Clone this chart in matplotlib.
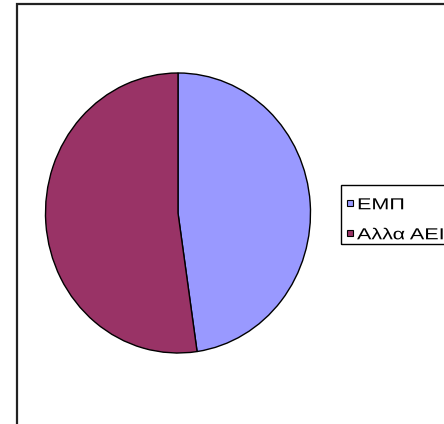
import matplotlib
matplotlib.use("Agg")
import matplotlib.pyplot as plt
from matplotlib.patches import Rectangle
from matplotlib.patheffects import AbstractPathEffect
from matplotlib.transforms import Affine2D

labels = ["ΕΜΠ", "Αλλα ΑΕΙ"]
values = [47.7, 52.3]
colors = ["#9999FF", "#993366"]

W, H = 444, 424
plt.rcParams['font.family'] = ['Liberation Sans', 'DejaVu Sans']
fig = plt.figure(figsize=(W / 100, H / 100), dpi=100)


class StretchX(AbstractPathEffect):
    """Stretch text glyphs horizontally (the reference text is widened)."""
    def __init__(self, sx):
        super().__init__()
        self.sx = sx

    def draw_path(self, renderer, gc, tpath, affine, rgbFace=None):
        renderer.draw_path(gc, tpath, Affine2D().scale(self.sx, 1) + affine, rgbFace)


def px(x, y):
    return x / W, 1 - y / H


# outer chart frame (cut off at right and bottom)
fig.patches.append(Rectangle((16.5 / W, -0.1), 1.2, (H - 4.5) / H + 0.1,
                             transform=fig.transFigure, fill=False,
                             edgecolor="#222222", linewidth=1.6))

# pie axes placed in pixel box
left, right, top, bottom = 45.5, 310.5, 73, 353
ax = fig.add_axes([left / W, (H - bottom) / H, (right - left) / W, (bottom - top) / H])
ax.pie(values, colors=colors, startangle=90, counterclock=False,
       wedgeprops=dict(edgecolor="black", linewidth=1.0))
ax.set_aspect('auto')
ax.set_xlim(-1, 1)
ax.set_ylim(-1, 1)
ax.axis('off')

# legend (frame cut off at the right edge)
lx, ly = px(341, 243.7)
fig.patches.append(Rectangle((lx, ly), 0.5, (243.7 - 185) / H,
                             transform=fig.transFigure, fill=False,
                             edgecolor="black", linewidth=1.0))
sq = 6.3
for i, (lab, c) in enumerate(zip(labels, colors)):
    cy = 203 + i * 30
    x0, y0 = px(347, cy + sq / 2)
    fig.patches.append(Rectangle((x0, y0), sq / W, sq / H, transform=fig.transFigure,
                                 facecolor=c, edgecolor="black", linewidth=0.8))
    tx, ty = px(357, 209.3 + i * 30)
    fig.text(tx, ty, lab, fontsize=11.5, va='baseline', ha='left',
             path_effects=[StretchX(1.35)])

fig.savefig("out.png", dpi=100)
